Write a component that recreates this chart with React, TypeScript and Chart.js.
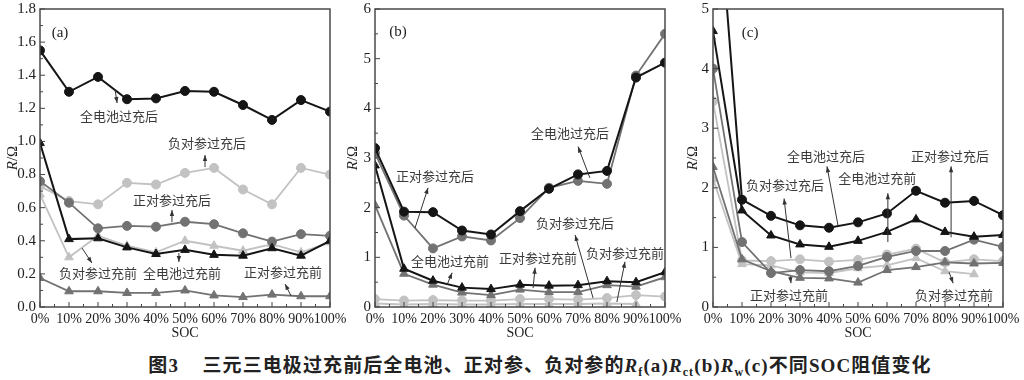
import React, { useEffect, useRef } from 'react';
import { Chart, registerables } from 'chart.js';

Chart.register(...registerables);

// ---------- shared categories ----------
const socLabels = ['0%', '10%', '20%', '30%', '40%', '50%', '60%', '70%', '80%', '90%', '100%'];

// ---------- panel (a): Rf ----------
const aFullAfter = [1.55, 1.30, 1.39, 1.255, 1.26, 1.305, 1.30, 1.22, 1.13, 1.25, 1.18];
const aFullBefore = [0.99, 0.41, 0.415, 0.36, 0.32, 0.345, 0.315, 0.31, 0.355, 0.31, 0.40];
const aPosAfter = [0.76, 0.63, 0.475, 0.49, 0.485, 0.515, 0.50, 0.445, 0.395, 0.44, 0.43];
const aPosBefore = [0.175, 0.095, 0.095, 0.085, 0.085, 0.10, 0.07, 0.06, 0.075, 0.065, 0.065];
const aNegAfter = [0.73, 0.64, 0.62, 0.75, 0.74, 0.81, 0.84, 0.71, 0.62, 0.84, 0.80];
const aNegBefore = [0.68, 0.30, 0.43, 0.37, 0.33, 0.40, 0.37, 0.34, 0.38, 0.33, 0.39];

// ---------- panel (b): Rct ----------
const bFullAfter = [3.2, 1.92, 1.91, 1.54, 1.46, 1.93, 2.38, 2.67, 2.74, 4.62, 4.92];
const bFullBefore = [2.85, 0.77, 0.53, 0.39, 0.36, 0.45, 0.43, 0.44, 0.52, 0.50, 0.70];
const bPosAfter = [3.1, 1.84, 1.18, 1.42, 1.34, 1.79, 2.40, 2.54, 2.48, 4.66, 5.5];
const bPosBefore = [2.05, 0.67, 0.45, 0.29, 0.24, 0.35, 0.30, 0.30, 0.44, 0.41, 0.60];
const bNegAfter = [0.16, 0.13, 0.14, 0.13, 0.13, 0.16, 0.16, 0.15, 0.18, 0.24, 0.21];
const bNegBefore = [0.07, 0.05, 0.06, 0.05, 0.05, 0.06, 0.06, 0.06, 0.07, 0.06, null];

// ---------- panel (c): Rw ----------
const cFullAfter = [8.0, 1.80, 1.53, 1.37, 1.33, 1.42, 1.57, 1.95, 1.75, 1.78, 1.54];
const cFullBefore = [4.63, 1.62, 1.20, 1.05, 1.01, 1.11, 1.26, 1.47, 1.26, 1.18, 1.21];
const cPosAfter = [4.0, 1.09, 0.57, 0.62, 0.60, 0.69, 0.84, 0.94, 0.94, 1.13, 1.01];
const cPosBefore = [2.35, 0.80, 0.60, 0.49, 0.48, 0.41, 0.62, 0.67, 0.75, 0.73, 0.74];
const cNegAfter = [3.45, 0.78, 0.77, 0.80, 0.76, 0.79, 0.88, 0.98, 0.75, 0.80, 0.77];
const cNegBefore = [2.15, 0.72, 0.70, 0.58, 0.57, 0.65, 0.70, 0.82, 0.60, 0.55, null];

// ---------- series names ----------
const nFullAfter = '全电池过充后';
const nFullBefore = '全电池过充前';
const nPosAfter = '正对参过充后';
const nPosBefore = '正对参过充前';
const nNegAfter = '负对参过充后';
const nNegBefore = '负对参过充前';

// ---------- annotations (data coordinates: category index, value) ----------
type Note = { text: string; x: number; y: number };
type Arrow = { x1: number; y1: number; x2: number; y2: number };

const aNotes: Note[] = [
  { text: nFullAfter, x: 2.72, y: 1.153 },
  { text: nNegAfter, x: 5.76, y: 0.99 },
  { text: nPosAfter, x: 4.55, y: 0.645 },
  { text: nNegBefore, x: 2.0, y: 0.205 },
  { text: nFullBefore, x: 4.9, y: 0.205 },
  { text: nPosBefore, x: 8.38, y: 0.21 },
];
const aArrows: Arrow[] = [
  { x1: 2.59, y1: 1.31, x2: 2.66, y2: 1.232 },
  { x1: 5.69, y1: 0.845, x2: 5.69, y2: 0.918 },
  { x1: 4.55, y1: 0.513, x2: 4.55, y2: 0.586 },
  { x1: 1.45, y1: 0.356, x2: 1.79, y2: 0.266 },
  { x1: 4.79, y1: 0.326, x2: 4.79, y2: 0.272 },
  { x1: 8.66, y1: 0.066, x2: 8.45, y2: 0.139 },
];

const bNotes: Note[] = [
  { text: nFullAfter, x: 6.72, y: 3.51 },
  { text: nPosAfter, x: 2.07, y: 2.64 },
  { text: nNegAfter, x: 6.9, y: 1.69 },
  { text: nFullBefore, x: 2.59, y: 0.93 },
  { text: nPosBefore, x: 5.62, y: 0.99 },
  { text: nNegBefore, x: 8.62, y: 1.09 },
];
const bArrows: Arrow[] = [
  { x1: 7.41, y1: 2.6, x2: 7.0, y2: 3.23 },
  { x1: 1.38, y1: 1.59, x2: 1.83, y2: 2.4 },
  { x1: 7.52, y1: 0.18, x2: 6.9, y2: 1.45 },
  { x1: 2.48, y1: 0.44, x2: 2.66, y2: 0.69 },
  { x1: 5.45, y1: 0.38, x2: 5.52, y2: 0.79 },
  { x1: 8.34, y1: 0.1, x2: 8.62, y2: 0.91 },
];

const cNotes: Note[] = [
  { text: nFullAfter, x: 3.9, y: 2.54 },
  { text: nPosAfter, x: 8.17, y: 2.54 },
  { text: nFullBefore, x: 5.66, y: 2.17 },
  { text: nNegAfter, x: 2.48, y: 2.04 },
  { text: nPosBefore, x: 2.62, y: 0.2 },
  { text: nNegBefore, x: 8.31, y: 0.2 },
];
const cArrows: Arrow[] = [
  { x1: 4.31, y1: 1.37, x2: 3.93, y2: 2.36 },
  { x1: 8.21, y1: 1.17, x2: 8.21, y2: 2.36 },
  { x1: 6.03, y1: 1.09, x2: 6.03, y2: 1.91 },
  { x1: 2.69, y1: 0.82, x2: 2.45, y2: 1.82 },
  { x1: 2.66, y1: 0.52, x2: 2.69, y2: 0.4 },
  { x1: 8.14, y1: 0.585, x2: 8.28, y2: 0.4 },
];

// ---------- styles ----------
const BLACK = '#151515';
const GRAY = '#727272';
const LIGHT = '#c2c2c2';
const SERIF = '"Liberation Serif", "Times New Roman", serif';
const CJK = '"Noto Sans CJK SC", sans-serif';
const H = 345;
const PLOT_BOTTOM = 307;

function ds(label: string, data: (number | null)[], color: string, style: string, width: number, radius: number) {
  return {
    label,
    data,
    borderColor: color,
    backgroundColor: color,
    pointBackgroundColor: color,
    pointBorderColor: color,
    pointStyle: style,
    pointRadius: radius,
    pointBorderWidth: 1,
    borderWidth: width,
    tension: 0,
    spanGaps: false,
    clip: 0,
  };
}

type PanelCfg = {
  left: number;
  w: number;
  axisW: number;
  padRight: number;
  yMax: number;
  step: number;
  decimals: number;
  tag: string;
  tagX: number;
  tagY: number;
  series: (number | null)[][];
  notes: Note[];
  arrows: Arrow[];
};

function makeDeco(cfg: PanelCfg) {
  return {
    id: 'deco' + cfg.tag,
    afterDraw(chart: any) {
      const { ctx, chartArea: ca, scales } = chart;
      const xs = scales.x;
      const ys = scales.y;
      const line = (x1: number, y1: number, x2: number, y2: number) => {
        ctx.beginPath();
        ctx.moveTo(x1, y1);
        ctx.lineTo(x2, y2);
        ctx.stroke();
      };
      ctx.save();
      // inner ticks
      ctx.strokeStyle = '#444';
      ctx.lineWidth = 1;
      const yt = ys.ticks;
      for (let i = 0; i < yt.length; i++) {
        const p = ys.getPixelForValue(yt[i].value);
        line(ca.left, p, ca.left + 5, p);
        if (i < yt.length - 1) {
          const m = ys.getPixelForValue((yt[i].value + yt[i + 1].value) / 2);
          line(ca.left, m, ca.left + 3, m);
        }
      }
      const n = socLabels.length;
      for (let i = 0; i < n; i++) {
        const p = xs.getPixelForValue(i);
        line(p, ca.bottom, p, ca.bottom - 5);
        if (i < n - 1) {
          const m = xs.getPixelForValue(i + 0.5);
          line(m, ca.bottom, m, ca.bottom - 3);
        }
      }
      // frame
      ctx.strokeStyle = '#4a4a4a';
      ctx.lineWidth = 1.5;
      ctx.strokeRect(ca.left, ca.top, ca.right - ca.left, ca.bottom - ca.top);

      // panel tag
      ctx.fillStyle = '#222';
      ctx.font = '15px ' + SERIF;
      ctx.textAlign = 'center';
      ctx.textBaseline = 'middle';
      ctx.fillText(cfg.tag, xs.getPixelForValue(cfg.tagX), ys.getPixelForValue(cfg.tagY));

      // y title R/Ω
      ctx.save();
      ctx.translate(13, (ca.top + ca.bottom) / 2);
      ctx.rotate(-Math.PI / 2);
      ctx.font = 'italic 15px ' + SERIF;
      const wR = ctx.measureText('R').width;
      ctx.font = '15px ' + SERIF;
      const wO = ctx.measureText('/Ω').width;
      const start = -(wR + wO) / 2;
      ctx.textAlign = 'left';
      ctx.font = 'italic 15px ' + SERIF;
      ctx.fillText('R', start, 0);
      ctx.font = '15px ' + SERIF;
      ctx.fillText('/Ω', start + wR, 0);
      ctx.restore();

      // arrows
      ctx.strokeStyle = '#333';
      ctx.fillStyle = '#333';
      ctx.lineWidth = 1;
      for (const a of cfg.arrows) {
        const x1 = xs.getPixelForValue(a.x1);
        const y1 = ys.getPixelForValue(a.y1);
        const x2 = xs.getPixelForValue(a.x2);
        const y2 = ys.getPixelForValue(a.y2);
        line(x1, y1, x2, y2);
        const ang = Math.atan2(y2 - y1, x2 - x1);
        const L = 6;
        const Wd = 2.2;
        ctx.beginPath();
        ctx.moveTo(x2, y2);
        ctx.lineTo(x2 - L * Math.cos(ang) + Wd * Math.sin(ang), y2 - L * Math.sin(ang) - Wd * Math.cos(ang));
        ctx.lineTo(x2 - L * Math.cos(ang) - Wd * Math.sin(ang), y2 - L * Math.sin(ang) + Wd * Math.cos(ang));
        ctx.closePath();
        ctx.fill();
      }

      // notes
      ctx.fillStyle = '#3a3a3a';
      ctx.font = '13px ' + CJK;
      ctx.textAlign = 'center';
      ctx.textBaseline = 'middle';
      for (const t of cfg.notes) {
        ctx.fillText(t.text, xs.getPixelForValue(t.x), ys.getPixelForValue(t.y));
      }
      ctx.restore();
    },
  };
}

function Panel({ cfg }: { cfg: PanelCfg }) {
  const ref = useRef<HTMLCanvasElement | null>(null);
  useEffect(() => {
    if (!ref.current) return;
    const [fullAfter, fullBefore, posAfter, posBefore, negAfter, negBefore] = cfg.series;
    const chart = new Chart(ref.current, {
      type: 'line',
      data: {
        labels: socLabels,
        datasets: [
          ds(nFullAfter, fullAfter, BLACK, 'circle', 2, 4.5),
          ds(nFullBefore, fullBefore, BLACK, 'triangle', 2, 5),
          ds(nPosAfter, posAfter, GRAY, 'circle', 1.8, 4.5),
          ds(nPosBefore, posBefore, GRAY, 'triangle', 1.8, 5),
          ds(nNegAfter, negAfter, LIGHT, 'circle', 1.8, 4.5),
          ds(nNegBefore, negBefore, LIGHT, 'triangle', 1.8, 5),
        ] as any,
      },
      options: {
        responsive: false,
        animation: false,
        devicePixelRatio: 1,
        layout: { padding: { left: 0, right: cfg.padRight, top: 9, bottom: 0 } },
        plugins: {
          legend: { display: false },
          tooltip: { enabled: false },
        },
        scales: {
          x: {
            type: 'category',
            offset: false,
            grid: { display: false, drawTicks: false },
            border: { display: false },
            ticks: {
              autoSkip: false,
              maxRotation: 0,
              minRotation: 0,
              padding: 4,
              color: '#222',
              font: { family: SERIF, size: 14 },
            },
            title: {
              display: true,
              text: 'SOC',
              color: '#222',
              font: { family: SERIF, size: 14 },
              padding: { top: 0, bottom: 3 },
            },
            afterFit: (s: any) => {
              s.height = H - PLOT_BOTTOM;
              s.paddingLeft = 0;
              s.paddingRight = 0;
            },
          },
          y: {
            min: 0,
            max: cfg.yMax,
            grid: { display: false, drawTicks: false },
            border: { display: false },
            ticks: {
              stepSize: cfg.step,
              padding: 4,
              color: '#222',
              font: { family: SERIF, size: 15 },
              callback: (v: any) => Number(v).toFixed(cfg.decimals),
            },
            afterFit: (s: any) => {
              s.width = cfg.axisW;
              s.paddingTop = 0;
              s.paddingBottom = 0;
            },
          },
        },
      } as any,
      plugins: [makeDeco(cfg)],
    });
    return () => chart.destroy();
  }, []);
  return (
    <canvas
      ref={ref}
      width={cfg.w}
      height={H}
      style={{ position: 'absolute', left: cfg.left, top: 0, width: cfg.w, height: H }}
    />
  );
}

const panels: PanelCfg[] = [
  {
    left: 0, w: 355, axisW: 40, padRight: 25, yMax: 1.8, step: 0.2, decimals: 1,
    tag: '(a)', tagX: 0.69, tagY: 1.655,
    series: [aFullAfter, aFullBefore, aPosAfter, aPosBefore, aNegAfter, aNegBefore],
    notes: aNotes, arrows: aArrows,
  },
  {
    left: 340, w: 345, axisW: 35, padRight: 20, yMax: 6, step: 1, decimals: 0,
    tag: '(b)', tagX: 0.79, tagY: 5.54,
    series: [bFullAfter, bFullBefore, bPosAfter, bPosBefore, bNegAfter, bNegBefore],
    notes: bNotes, arrows: bArrows,
  },
  {
    left: 680, w: 344, axisW: 33, padRight: 21, yMax: 5, step: 1, decimals: 0,
    tag: '(c)', tagX: 1.28, tagY: 4.6,
    series: [cFullAfter, cFullBefore, cPosAfter, cPosBefore, cNegAfter, cNegBefore],
    notes: cNotes, arrows: cArrows,
  },
];

export default function App() {
  const sub: React.CSSProperties = { fontSize: '12px', verticalAlign: '-4px', fontStyle: 'normal' };
  return (
    <div style={{ position: 'absolute', left: 0, top: 0, width: 1024, height: 380, background: '#fff', overflow: 'hidden' }}>
      {panels.map((p, i) => (
        <Panel key={i} cfg={p} />
      ))}
      <div
        style={{
          position: 'absolute',
          left: 28,
          top: 354,
          width: 1024,
          textAlign: 'center',
          fontFamily: '"Liberation Serif", "Noto Sans CJK SC", serif',
          fontWeight: 'bold',
          fontSize: '19px',
          lineHeight: '24px',
          color: '#222',
          whiteSpace: 'nowrap',
          letterSpacing: '1.1px',
        }}
      >
        图3&nbsp;&nbsp;&nbsp;&nbsp;三元三电极过充前后全电池、正对参、负对参的
        <i>R</i><span style={sub}>f</span>(a)<i>R</i><span style={sub}>ct</span>(b)<i>R</i><span style={sub}>w</span>(c)不同SOC阻值变化
      </div>
    </div>
  );
}
